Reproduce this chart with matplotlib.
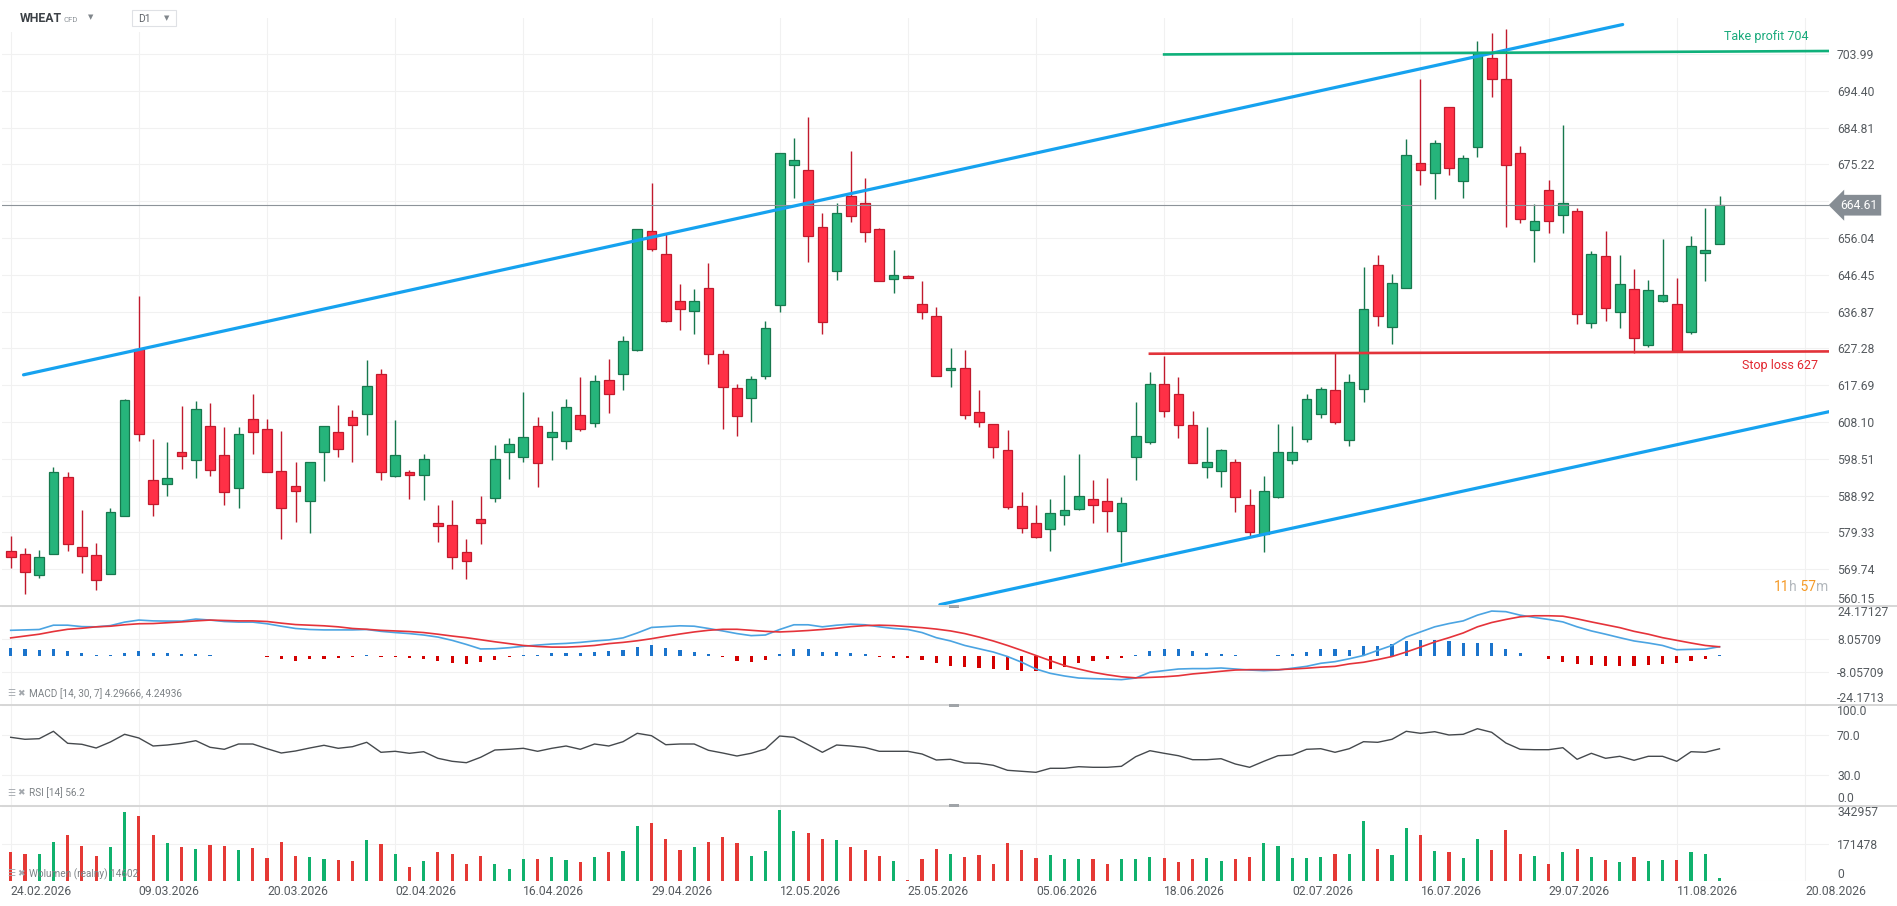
import numpy as np
import matplotlib
matplotlib.use("Agg")
import matplotlib.pyplot as plt
from matplotlib.lines import Line2D
from matplotlib.patches import Rectangle
from matplotlib.transforms import blended_transform_factory

plt.rcParams["font.family"] = ["Roboto", "DejaVu Sans"]

# ---------------- data ----------------
date_labels = ["24.02.2026", "09.03.2026", "20.03.2026", "02.04.2026", "16.04.2026",
               "29.04.2026", "12.05.2026", "25.05.2026", "05.06.2026", "18.06.2026",
               "02.07.2026", "16.07.2026", "29.07.2026", "11.08.2026", "20.08.2026"]
date_idx = [0, 9, 18, 27, 36, 45, 54, 63, 72, 81, 90, 99, 108, 117, 126]

opens = [574.6, 573.8, 568.3, 573.8, 593.7, 575.4, 573.5, 568.6, 583.7, 627.2,
         593.1, 592.0, 600.2, 598.1, 607.0, 599.4, 590.8, 608.8, 606.4, 595.3,
         591.4, 587.6, 600.2, 605.6, 609.5, 610.1, 620.7, 594.0, 595.1, 594.2,
         581.7, 581.3, 574.1, 582.9, 588.3, 600.2, 599.1, 607.0, 604.1, 603.2,
         609.8, 607.9, 619.1, 620.7, 627.0, 658.0, 652.0, 639.7, 637.1, 642.9,
         625.9, 617.0, 614.4, 620.2, 638.7, 675.0, 673.9, 658.8, 647.5, 667.1,
         665.3, 658.5, 645.5, 646.2, 638.9, 635.8, 621.6, 622.2, 610.6, 607.5,
         600.8, 586.3, 581.9, 580.3, 583.9, 585.5, 588.1, 587.6, 579.8, 598.9,
         603.0, 618.1, 615.5, 607.2, 596.3, 595.3, 597.6, 586.5, 579.0, 588.5,
         598.1, 603.6, 610.1, 616.5, 603.3, 616.6, 648.9, 632.9, 643.1, 675.7,
         672.9, 690.1, 670.8, 679.9, 703.1, 697.6, 678.2, 658.2, 668.5, 662.0,
         663.0, 633.9, 651.5, 636.7, 642.7, 628.2, 639.7, 638.8, 631.6, 652.1,
         654.4]
highs = [578.3, 575.2, 574.8, 596.3, 595.2, 585.3, 576.5, 585.6, 614.0, 641.0,
         603.7, 602.9, 612.2, 613.7, 613.0, 606.7, 606.9, 615.4, 608.8, 605.7,
         597.6, 597.8, 607.0, 612.5, 611.2, 624.2, 621.8, 608.6, 595.5, 599.8,
         586.4, 587.9, 577.5, 588.9, 602.1, 603.9, 615.9, 609.4, 610.9, 614.1,
         619.8, 620.3, 624.4, 630.4, 658.5, 670.3, 657.0, 644.0, 642.7, 649.5,
         627.0, 617.9, 620.0, 634.3, 678.3, 682.1, 687.6, 662.5, 665.1, 678.7,
         671.6, 658.6, 652.9, 646.3, 644.8, 638.0, 627.3, 627.0, 616.4, 607.7,
         606.0, 589.9, 586.6, 588.1, 594.3, 599.8, 593.0, 593.4, 588.6, 613.3,
         621.1, 625.2, 619.8, 610.9, 606.8, 601.1, 598.4, 590.7, 594.0, 607.5,
         607.0, 615.3, 617.3, 626.2, 620.7, 648.5, 651.7, 646.6, 681.8, 697.5,
         681.5, 690.2, 677.8, 707.4, 709.5, 710.5, 680.1, 664.8, 671.3, 685.6,
         663.9, 652.7, 657.9, 651.6, 648.0, 645.1, 655.8, 645.6, 656.6, 663.9,
         667.1]
lows = [570.0, 563.3, 567.5, 573.8, 574.5, 568.8, 564.4, 568.6, 583.5, 603.2,
        583.6, 588.8, 595.8, 593.6, 594.1, 586.4, 585.7, 599.8, 595.2, 577.6,
        582.0, 579.2, 592.6, 598.9, 597.6, 604.8, 592.9, 593.9, 588.0, 587.7,
        576.8, 569.8, 567.2, 576.3, 587.2, 593.3, 597.6, 591.2, 598.2, 601.1,
        605.8, 606.9, 610.5, 616.5, 626.6, 652.7, 634.2, 632.2, 631.1, 623.3,
        606.3, 604.5, 608.2, 619.3, 636.8, 666.5, 649.8, 631.0, 645.1, 660.3,
        655.0, 644.8, 641.7, 645.6, 634.9, 620.1, 617.2, 608.9, 606.9, 598.8,
        585.4, 579.2, 577.9, 574.5, 581.2, 585.2, 581.8, 579.4, 571.6, 592.9,
        602.5, 609.5, 604.0, 597.3, 593.5, 591.1, 584.6, 578.4, 574.1, 588.3,
        597.2, 602.9, 609.1, 607.7, 601.8, 613.4, 633.2, 628.5, 642.9, 670.0,
        666.1, 672.6, 666.6, 677.2, 692.9, 658.9, 660.1, 649.9, 657.4, 657.4,
        633.6, 632.6, 634.5, 632.6, 626.0, 627.7, 639.4, 626.3, 631.1, 644.9,
        654.4]
closes = [572.8, 569.1, 573.0, 595.0, 576.4, 573.3, 566.8, 584.7, 613.8, 605.1,
          586.8, 593.4, 599.2, 611.4, 595.5, 589.8, 604.9, 605.4, 595.2, 585.7,
          590.0, 597.7, 607.0, 601.0, 607.2, 617.6, 595.0, 599.4, 594.3, 598.4,
          581.1, 572.8, 572.0, 581.9, 598.4, 602.5, 604.3, 597.5, 605.6, 611.9,
          606.3, 618.9, 615.3, 629.3, 658.3, 653.3, 634.4, 637.6, 639.7, 625.9,
          617.2, 609.7, 619.4, 632.7, 678.1, 676.5, 656.7, 634.2, 662.7, 661.8,
          657.7, 644.9, 646.5, 645.7, 636.9, 620.2, 622.1, 609.8, 608.0, 601.5,
          586.0, 580.5, 578.2, 584.4, 585.2, 588.9, 586.5, 585.0, 587.0, 604.4,
          617.9, 611.1, 607.2, 597.3, 597.6, 600.7, 588.5, 579.5, 590.1, 600.2,
          600.4, 614.2, 616.8, 608.2, 618.6, 637.6, 635.8, 644.4, 677.8, 673.9,
          680.7, 674.4, 676.8, 704.2, 697.4, 675.2, 661.1, 660.6, 660.6, 665.2,
          636.2, 652.0, 637.7, 644.0, 630.1, 642.4, 641.1, 626.6, 653.9, 653.0,
          664.61]

macd_line = [12.3, 12.5, 12.7, 14.8, 14.8, 14.1, 14.0, 14.6, 16.3, 17.3,
             16.9, 16.8, 16.8, 17.8, 17.3, 16.6, 16.3, 16.3, 15.5, 14.3,
             13.2, 12.7, 12.5, 12.5, 12.5, 12.7, 11.8, 11.2, 10.7, 10.0,
             9.0, 7.4, 5.4, 3.2, 3.3, 3.8, 4.5, 5.1, 5.6, 5.9,
             6.4, 7.1, 7.6, 8.6, 11.0, 13.7, 14.1, 14.5, 14.3, 13.2,
             12.0, 10.7, 9.7, 10.0, 12.7, 15.0, 15.0, 14.0, 14.8, 15.3,
             15.0, 14.0, 13.2, 12.7, 11.2, 8.7, 7.1, 4.9, 3.3, 1.7,
             -0.5, -3.3, -6.6, -8.7, -10.0, -11.0, -11.3, -11.5, -11.8, -11.0,
             -8.2, -7.4, -6.6, -6.4, -6.4, -6.1, -6.6, -7.1, -7.4, -7.1,
             -6.2, -5.3, -3.8, -3.0, -1.6, 0.0, 2.5, 4.9, 9.0, 11.5,
             14.0, 15.6, 16.9, 19.7, 21.7, 21.4, 19.7, 18.6, 17.6, 16.4,
             14.0, 12.0, 10.4, 8.7, 7.1, 6.1, 4.9, 2.8, 3.0, 3.1,
             4.29666]
macd_signal = [8.6, 9.5, 10.4, 11.7, 12.8, 13.3, 14.0, 14.3, 15.0, 15.5,
               15.6, 16.0, 16.4, 16.9, 17.3, 17.1, 16.9, 16.9, 16.6, 15.8,
               15.1, 14.8, 14.5, 14.0, 13.2, 12.8, 12.3, 12.0, 11.7, 11.2,
               10.4, 9.5, 8.7, 7.7, 6.7, 5.8, 4.9, 4.4, 4.1, 4.1,
               4.4, 4.9, 5.8, 6.4, 7.2, 8.2, 9.4, 10.5, 11.5, 12.3,
               12.8, 12.8, 12.3, 11.8, 11.5, 11.8, 12.2, 12.7, 13.3, 14.1,
               14.6, 14.8, 14.6, 14.1, 13.6, 12.9, 12.0, 10.7, 9.0, 7.1,
               4.9, 2.5, 0.0, -2.5, -4.9, -6.6, -8.2, -9.4, -10.4, -10.9,
               -10.7, -10.4, -9.9, -9.0, -8.4, -7.7, -7.1, -6.9, -6.9, -6.9,
               -6.6, -6.2, -5.7, -5.3, -4.1, -3.3, -2.0, -0.5, 1.7, 4.1,
               6.6, 8.7, 11.0, 14.0, 16.1, 17.6, 18.9, 19.4, 19.4, 19.2,
               17.9, 16.4, 15.0, 13.6, 11.8, 10.4, 8.7, 7.4, 6.1, 4.9,
               4.24936]
macd_hist = [3.5, 3.1, 2.6, 3.1, 2.1, 1.1, 0.2, 0.2, 1.4, 2.1,
             1.4, 1.1, 0.9, 0.9, 0.2, -0.2, -0.3, -0.3, -0.5, -1.8,
             -2.5, -1.9, -1.5, -1.0, -0.5, 0.3, -0.5, -0.8, -1.1, -1.6,
             -2.6, -3.6, -4.0, -3.3, -2.1, -0.8, 0.2, 0.3, 1.1, 1.4,
             1.3, 1.6, 2.0, 2.6, 4.1, 4.9, 3.8, 2.8, 1.8, 0.7,
             -0.9, -2.8, -3.0, -2.2, 0.5, 3.0, 3.0, 1.5, 1.5, 1.1,
             0.5, -0.6, -1.2, -1.2, -2.2, -3.8, -5.0, -5.5, -6.0, -6.4,
             -6.9, -7.4, -7.6, -6.4, -5.4, -3.8, -2.5, -1.7, -1.0, 0.3,
             2.1, 3.0, 3.0, 2.3, 1.3, 0.8, 0.2, -0.4, -0.4, 0.1,
             0.5, 1.5, 3.0, 3.0, 2.8, 4.4, 4.4, 5.4, 7.1, 7.7,
             7.7, 7.1, 6.2, 6.2, 6.1, 3.4, 1.1, -0.4, -1.9, -3.1,
             -4.2, -4.4, -5.2, -5.2, -5.1, -4.8, -4.0, -3.8, -2.5, -1.5,
             0.05]

rsi = [67.7, 65.7, 66.3, 73.7, 61.7, 60.7, 57.0, 63.0, 70.7, 67.0,
       59.0, 60.0, 61.7, 64.3, 57.7, 55.7, 61.0, 61.0, 56.3, 52.0,
       54.0, 57.0, 59.7, 56.7, 58.3, 62.7, 52.7, 53.7, 51.7, 53.3,
       46.7, 43.7, 42.3, 47.7, 55.0, 55.7, 56.7, 53.7, 56.7, 59.0,
       55.7, 61.0, 59.0, 63.3, 71.7, 69.3, 60.3, 61.0, 61.0, 54.7,
       52.0, 49.0, 51.7, 56.0, 69.0, 67.7, 60.3, 52.7, 60.0, 59.0,
       57.5, 53.7, 53.7, 53.7, 51.0, 45.0, 45.7, 42.0, 41.7, 39.7,
       34.7, 33.7, 32.7, 36.7, 36.7, 38.3, 37.7, 37.7, 38.7, 48.3,
       54.3, 51.7, 49.3, 45.3, 45.3, 46.3, 41.0, 37.7, 43.7, 49.3,
       50.0, 55.7, 56.3, 52.7, 56.3, 63.3, 62.7, 65.7, 73.7, 71.7,
       73.3, 70.0, 70.7, 76.3, 72.7, 62.0, 55.7, 55.3, 55.3, 57.3,
       45.7, 51.7, 46.7, 48.7, 44.7, 48.7, 48.7, 43.7, 53.3, 52.7,
       56.2]

volume = [131000, 122000, 122000, 178000, 210000, 159000, 113000, 155000, 317000, 298000,
          210000, 173000, 155000, 145000, 164000, 159000, 141000, 150000, 104000, 178000,
          113000, 108000, 99000, 94000, 90000, 187000, 168000, 122000, 62000, 90000,
          131000, 122000, 80000, 113000, 76000, 57000, 99000, 99000, 108000, 94000,
          85000, 108000, 131000, 136000, 252000, 266000, 192000, 141000, 155000, 178000,
          201000, 173000, 113000, 136000, 326000, 229000, 219000, 192000, 187000, 155000,
          141000, 113000, 90000, 6000, 99000, 145000, 122000, 108000, 117000, 76000,
          173000, 141000, 104000, 117000, 99000, 99000, 99000, 80000, 99000, 99000,
          108000, 104000, 85000, 99000, 104000, 90000, 99000, 108000, 173000, 159000,
          104000, 104000, 108000, 122000, 122000, 275000, 145000, 117000, 243000, 210000,
          136000, 131000, 104000, 192000, 141000, 233000, 122000, 113000, 80000, 131000,
          145000, 108000, 94000, 85000, 108000, 90000, 94000, 94000, 131000, 122000,
          14602]

price_ticks = [703.99, 694.40, 684.81, 675.22, 665.63, 656.04, 646.45, 636.87,
               627.28, 617.69, 608.10, 598.51, 588.92, 579.33, 569.74, 560.15]
macd_ticks = [24.17127, 8.05709, -8.05709, -24.17127]
macd_tick_labels = ["24.17127", "8.05709", "-8.05709", "-24.1713"]
rsi_ticks = [100, 70, 30, 0]
rsi_tick_labels = ["100.0", "70.0", "30.0", "0.0"]
vol_ticks = [342957, 171478, 0]
vol_tick_labels = ["342957", "171478", "0"]

# drawn lines: (candle index, price) end points
upper_channel = ([0.9, 113.2], [620.4, 711.7])
lower_channel = ([65.25, 127.7], [560.5, 610.8])
take_profit = ([81.0, 127.7], [703.9, 704.8])
stop_loss = ([80.0, 127.7], [625.9, 626.5])
last_price = 664.61

# ---------------- colours ----------------
GREEN, GREEN_EDGE = "#26b47b", "#17784e"
RED, RED_EDGE = "#ff3046", "#c11a2d"
GRID = "#f1f1f1"
LABEL = "#555a5f"

# ---------------- figure / layout (pixels) ----------------
W, H = 1897, 906
fig = plt.figure(figsize=(W / 100, H / 100), dpi=100)
fig.patch.set_facecolor("white")

LEFT, RIGHT = 2, 1829
X0, STEP = 10.7, 14.24
xlim = ((LEFT - X0) / STEP, (RIGHT - X0) / STEP)


def rect(top, bottom):
    return [LEFT / W, 1 - bottom / H, (RIGHT - LEFT) / W, (bottom - top) / H]


def fxy(x, y):
    return x / W, 1 - y / H


ax_p = fig.add_axes(rect(18, 606))
ax_m = fig.add_axes(rect(606, 705))
ax_r = fig.add_axes(rect(705, 805))
ax_v = fig.add_axes(rect(806, 881))


def style(ax, ticks, labels, ylim):
    ax.set_xlim(*xlim)
    ax.set_ylim(*ylim)
    ax.set_xticks(date_idx)
    ax.set_yticks(ticks, labels=labels)
    ax.yaxis.tick_right()
    ax.tick_params(axis="y", length=0, pad=5.8, labelsize=8.7, labelcolor=LABEL)
    ax.tick_params(axis="x", length=0, labelbottom=False)
    ax.grid(True, color=GRID, lw=0.8)
    ax.set_axisbelow(True)
    for s in ax.spines.values():
        s.set_visible(False)
    ax.patch.set_alpha(0)


def clamp_end_labels(ax):
    ticks = ax.yaxis.get_major_ticks()
    ticks[0].label2.set_va("top")
    ticks[-1].label2.set_va("bottom")


idx = np.arange(len(closes))
o, h, l, c = map(np.array, (opens, highs, lows, closes))
up = c >= o

# ---------------- price panel ----------------
style(ax_p, price_ticks, [f"{t:.2f}" for t in price_ticks], (560.15, 713.4))
ax_p.yaxis.get_major_ticks()[-1].label2.set_va("bottom")

for mask, fc, ec in ((up, GREEN, GREEN_EDGE), (~up, RED, RED_EDGE)):
    ax_p.vlines(idx[mask], l[mask], h[mask], color=ec, lw=1.0, zorder=2)
    ax_p.bar(idx[mask], np.abs(c - o)[mask], bottom=np.minimum(o, c)[mask],
             width=0.68, color=fc, edgecolor=ec, linewidth=0.9, zorder=3)

ax_p.axhline(last_price, color="#8d9399", lw=0.8, zorder=4)
ax_p.plot(*upper_channel, color="#16a2ef", lw=2.3, zorder=5, solid_capstyle="round")
ax_p.plot(*lower_channel, color="#16a2ef", lw=2.3, zorder=5, solid_capstyle="round")
ax_p.plot(*take_profit, color="#0fb07a", lw=1.9, zorder=5)
ax_p.plot(*stop_loss, color="#e2333a", lw=1.9, zorder=5)

ax_p.text((1809 - X0) / STEP, 708.6, "Take profit 704", color="#1aaa7c",
          fontsize=9, ha="right", va="center", zorder=6)
ax_p.text((1818 - X0) / STEP, 622.8, "Stop loss 627", color="#e2262f",
          fontsize=9, ha="right", va="center", zorder=6)

ax_p.annotate(f"{last_price:.2f}", xy=(1.0, last_price),
              xycoords=blended_transform_factory(ax_p.transAxes, ax_p.transData),
              xytext=(8, 0), textcoords="offset points", ha="left", va="center",
              color="white", fontsize=8.7, annotation_clip=False, zorder=10,
              bbox=dict(boxstyle="larrow,pad=0.32", fc="#868d94", ec="none"))

# countdown "11h 57m"
t1 = ax_p.text((1774 - X0) / STEP, 565.0, "11", color="#f59a26", fontsize=10,
               ha="left", va="center", zorder=6)
t2 = ax_p.annotate("h", xy=(1, 0), xycoords=t1, va="bottom", color="#b3b8bd", fontsize=10)
t3 = ax_p.annotate(" 57", xy=(1, 0), xycoords=t2, va="bottom", color="#f59a26", fontsize=10)
ax_p.annotate("m", xy=(1, 0), xycoords=t3, va="bottom", color="#b3b8bd", fontsize=10)

# ---------------- MACD panel ----------------
style(ax_m, macd_ticks, macd_tick_labels, (-24.17127, 24.17127))
clamp_end_labels(ax_m)
hist = np.array(macd_hist)
ax_m.bar(idx, hist, width=0.22, color=np.where(hist >= 0, "#1b74cc", "#d40000"), zorder=2)
ax_m.plot(idx, macd_line, color="#4ba4e2", lw=1.2, zorder=3)
ax_m.plot(idx, macd_signal, color="#e5333a", lw=1.2, zorder=3)

# ---------------- RSI panel ----------------
style(ax_r, rsi_ticks, rsi_tick_labels, (0, 100))
clamp_end_labels(ax_r)
ax_r.plot(idx, rsi, color="#45494d", lw=1.0, zorder=3)

# ---------------- volume panel ----------------
style(ax_v, vol_ticks, vol_tick_labels, (0, 342957))
clamp_end_labels(ax_v)
ax_v.bar(idx, volume, width=0.22, color=np.where(up, "#10b16d", "#e53935"), zorder=2)
ax_v.set_xticks(date_idx, labels=date_labels)
ax_v.tick_params(axis="x", length=0, pad=3, labelsize=8.7, labelcolor=LABEL, labelbottom=True)
for t in ax_v.xaxis.get_major_ticks():
    t.label1.set_ha("left")

# ---------------- panel separators, handles and captions ----------------
for y in (606, 705, 805.5):
    fig.add_artist(Line2D([0, 1], [1 - y / H] * 2, transform=fig.transFigure,
                          color="#d6d6d6", lw=1.4, zorder=5))
    fig.add_artist(Rectangle(fxy(949, y + 1.5), 10 / W, 3 / H, transform=fig.transFigure,
                             fc="#a0a4a8", ec="none", zorder=6))

captions = [(693.5, "MACD [14, 30, 7] 4.29666, 4.24936"),
            (793.0, "RSI [14] 56.2"),
            (874.0, "Wolumen (realny) 14602")]
for y, s in captions:
    fig.text(*fxy(7, y), "☰", fontsize=6.5, color="#a3a8ad", va="center",
             family=["DejaVu Sans"], zorder=7)
    fig.text(*fxy(17, y), "✖", fontsize=6.5, color="#a3a8ad", va="center",
             family=["DejaVu Sans"], zorder=7)
    fig.text(*fxy(29, y), s, fontsize=7.2, color="#7d8286", va="center", zorder=7)

# ---------------- header ----------------
fig.add_artist(Rectangle(fxy(0, 32), 200 / W, 32 / H, transform=fig.transFigure,
                         fc="white", ec="none", zorder=6))
fig.text(*fxy(20, 18), "WHEAT", fontsize=8.8, fontweight="bold", color="#3c4146",
         va="center", zorder=7)
fig.text(*fxy(64, 19.5), "CFD", fontsize=5.6, color="#8e949a", va="center", zorder=7)
fig.text(*fxy(88, 17), "▼", fontsize=5, color="#80868b", va="center",
         family=["DejaVu Sans"], zorder=7)
fig.add_artist(Rectangle(fxy(132, 26), 44 / W, 16 / H, transform=fig.transFigure,
                         fc="white", ec="#dfe1e5", lw=0.8, zorder=7))
fig.text(*fxy(138, 19), "D1", fontsize=7.4, color="#5f6368", va="center", zorder=8)
fig.text(*fxy(164, 18), "▼", fontsize=5, color="#80868b", va="center",
         family=["DejaVu Sans"], zorder=8)

fig.savefig("out.png", dpi=100, facecolor="white")
